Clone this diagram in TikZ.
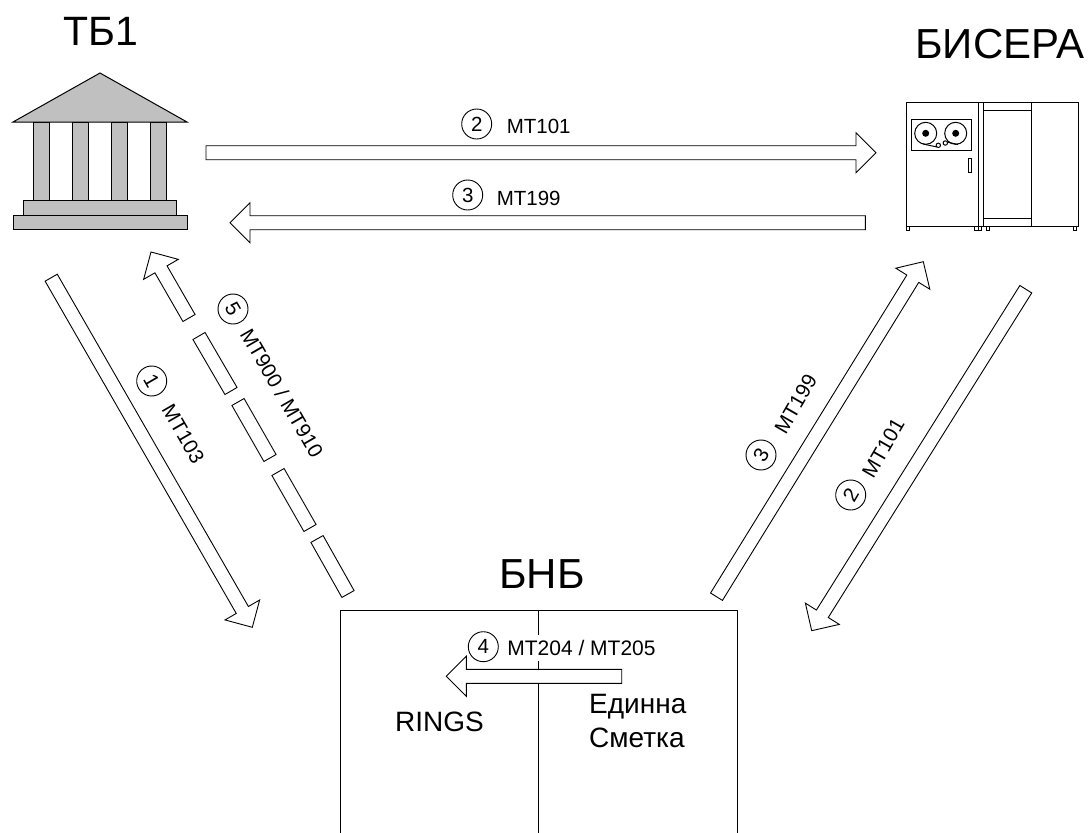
\documentclass[tikz,border=0pt]{standalone}
\usepackage{fontspec}
\setmainfont{Liberation Sans}
\usetikzlibrary{calc}
\definecolor{bankgray}{HTML}{C0C0C0}
\tikzset{
  title_lbl/.style = {inner sep=0pt, font=\fontsize{42}{46}\selectfont},
  sys_lbl/.style = {inner sep=0pt, align=left, font=\fontsize{28}{34}\selectfont},
  msg_lbl/.style = {inner sep=0pt, font=\fontsize{20.5}{24}\selectfont},
  num_circ/.style = {circle, draw=black, fill=white, line width=0.9pt, minimum size=30pt, inner sep=0pt, font=\fontsize{20.5}{24}\selectfont},
  block_arr/.style = {draw=black, fill=white, line width=0.9pt, line join=miter},
  bank_part/.style = {draw=black, fill=bankgray, line width=1pt},
  srv_line/.style = {draw=black, fill=white, line width=1pt},
}
% hollow block arrow from tail to tip
\newcommand{\blockarrow}[2]{
  \coordinate (hb) at ($(#2)!20pt!(#1)$);
  \path[block_arr] ($(#1)!7pt!90:(#2)$) -- ($(hb)!7pt!90:(#2)$) -- ($(hb)!20pt!90:(#2)$) -- (#2)
    -- ($(hb)!20pt!-90:(#2)$) -- ($(hb)!7pt!-90:(#2)$) -- ($(#1)!7pt!-90:(#2)$) -- cycle;
}
\begin{document}
\begin{tikzpicture}[x=1pt, y=-1pt]
  \useasboundingbox (0,0) rectangle (1088,833);

  % titles
  \node [title_lbl, font=\fontsize{41}{46}\selectfont] (tb_title) at (101,31) {ТБ1};
  \node [title_lbl] (bis_title) at (1000,44) {БИСЕРА};
  \node [title_lbl] (bnb_title) at (542,574) {БНБ};

  % bank
  \foreach \cx in {33,72,111,150} {
    \path[bank_part] (\cx,122) rectangle (\cx+16.5,200);
  }
  \path[bank_part] (13,122) -- (100,73) -- (187,122) -- cycle;
  \path[bank_part] (23.5,200) rectangle (176,215);
  \path[bank_part] (13,215) rectangle (187,229);

  % bisera machine
  \foreach \fx in {906,974.5,978,986,1073} {
    \path[srv_line] (\fx,226) rectangle (\fx+3.5,230);
  }
  \path[srv_line] (906,102) rectangle (978,226);
  \path[srv_line] (978,102) rectangle (983.5,226);
  \path[srv_line] (983.5,102) rectangle (1078,226);
  \draw[line width=1pt] (1031,102) -- (1031,226);
  \draw[line width=1pt] (983.5,110) -- (1031,110);
  \draw[line width=1pt] (983.5,218) -- (1031,218);
  \path[srv_line] (911,119) rectangle (971,150);
  \path[srv_line] (968.3,158) rectangle (971,172);
  \foreach \rx in {925.7,955.7} {
    \draw[line width=1pt] (\rx,133.3) circle (11);
    \fill (\rx,133.3) circle (3.5);
  }
  \draw[line width=1pt] (923,144) -- (937,147);
  \draw[line width=1pt] (947,142) -- (958,144.5);
  \path[srv_line] (938.3,145.3) circle (2.2);
  \path[srv_line] (945.3,143) circle (2.2);

  % bnb box
  \draw[line width=1pt] (340.5,833) -- (340.5,610) -- (737,610) -- (737,833);
  \draw[line width=1pt] (538.3,610) -- (538.3,833);

  % arrows
  \coordinate (a2top_s) at (206,152.7);
  \coordinate (a2top_e) at (876,152.7);
  \coordinate (a3top_s) at (865.3,222.7);
  \coordinate (a3top_e) at (230,222.7);
  \coordinate (a1_s) at (51.2,277.7);
  \coordinate (a1_e) at (252.3,627.3);
  \coordinate (a5_s) at (189,318);
  \coordinate (a5_e) at (151,252);
  \coordinate (a3r_s) at (716.5,596.7);
  \coordinate (a3r_e) at (923.3,261.7);
  \coordinate (a2r_s) at (1025.8,289.2);
  \coordinate (a2r_e) at (811.7,630.7);
  \coordinate (a4_s) at (621.7,676.3);
  \coordinate (a4_e) at (446.3,676.3);
  \blockarrow{a2top_s}{a2top_e}
  \blockarrow{a3top_s}{a3top_e}
  \blockarrow{a1_s}{a1_e}
  \blockarrow{a5_s}{a5_e}
  \blockarrow{a3r_s}{a3r_e}
  \blockarrow{a2r_s}{a2r_e}

  % broken part of 5
  \foreach \ax/\ay/\bx/\by in {199/336/231/391, 238/402/270/458, 278/472/310/528, 317/539/348/594} {
    \coordinate (seg_a) at (\ax,\ay);
    \coordinate (seg_b) at (\bx,\by);
    \path[block_arr] ($(seg_a)!7pt!90:(seg_b)$) -- ($(seg_b)!7pt!-90:(seg_a)$)
      -- ($(seg_b)!7pt!90:(seg_a)$) -- ($(seg_a)!7pt!-90:(seg_b)$) -- cycle;
  }

  % labels
  \node [num_circ] (n2top) at (476.7,124) {2};
  \node [msg_lbl] (m2top) at (538.7,126.3) {MT101};
  \node [num_circ] (n3top) at (467.7,195) {3};
  \node [msg_lbl] (m3top) at (528.7,198) {MT199};
  \node [num_circ, rotate=-60] (n1) at (151.7,381) {1};
  \node [msg_lbl, rotate=-60] (m1) at (183.3,434) {MT103};
  \node [num_circ, rotate=-60] (n5) at (233,309) {5};
  \node [msg_lbl, rotate=-60] (m5) at (282,393) {MT900 / MT910};
  \node [num_circ, rotate=60] (n3r) at (761,455) {3};
  \node [msg_lbl, rotate=60] (m3r) at (795.7,404) {MT199};
  \node [num_circ, rotate=60] (n2r) at (850.7,495) {2};
  \node [msg_lbl, rotate=60] (m2r) at (883.3,448) {MT101};

  \node [msg_lbl, fill=white, inner sep=2pt, minimum height=26pt, font=\fontsize{21}{24}\selectfont] (m4) at (581.5,648) {MT204 / MT205};
  \node [num_circ] (n4) at (483.3,646.7) {4};
  \blockarrow{a4_s}{a4_e}

  \node [sys_lbl] (rings) at (439.5,721.7) {RINGS};
  \node [sys_lbl, anchor=north west] (edin) at (589,694) {Единна\\Сметка};
\end{tikzpicture}
\end{document}
